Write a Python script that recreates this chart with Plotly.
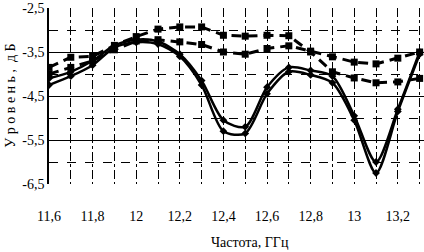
import plotly.graph_objects as go

freq = [11.6, 11.7, 11.8, 11.9, 12.0, 12.1, 12.2, 12.3, 12.4, 12.5, 12.6, 12.7, 12.8, 12.9, 13.0, 13.1, 13.2, 13.3]

dash_a = [-3.85, -3.62, -3.60, -3.35, -3.15, -2.98, -2.93, -2.93, -3.12, -3.14, -3.12, -3.13, -3.50, -3.95, -4.09, -4.20, -4.18, -4.10]
dash_b = [-4.00, -3.85, -3.70, -3.45, -3.25, -3.22, -3.27, -3.33, -3.50, -3.55, -3.42, -3.36, -3.48, -3.61, -3.73, -3.77, -3.64, -3.50]
solid_c = [-4.25, -4.05, -3.80, -3.40, -3.28, -3.32, -3.60, -4.25, -5.30, -5.35, -4.45, -3.95, -4.02, -4.20, -5.05, -6.25, -4.85, -3.55]
solid_d = [-4.10, -3.95, -3.70, -3.35, -3.22, -3.26, -3.55, -4.15, -5.05, -5.20, -4.30, -3.85, -3.92, -4.05, -4.95, -6.00, -4.80, -3.50]

x_ticks = [11.6, 11.8, 12.0, 12.2, 12.4, 12.6, 12.8, 13.0, 13.2]
x_tick_text = ["11,6", "11,8", "12", "12,2", "12,4", "12,6", "12,8", "13", "13,2"]
y_ticks = [-2.5, -3.5, -4.5, -5.5, -6.5]
y_tick_text = ["-2,5", "-3,5", "-4,5", "-5,5", "-6,5"]

fig = go.Figure()
for ys in (solid_c, solid_d):
    fig.add_trace(go.Scatter(x=freq, y=ys, mode="lines+markers",
                             line=dict(color="black", width=2.5, shape="spline", smoothing=0.8),
                             marker=dict(symbol="diamond", size=6, color="black"),
                             showlegend=False, hoverinfo="skip"))
for ys in (dash_a, dash_b):
    fig.add_trace(go.Scatter(x=freq, y=ys, mode="lines+markers",
                             line=dict(color="black", width=3, dash="10px,6px"),
                             marker=dict(symbol="square", size=7, color="black"),
                             showlegend=False, hoverinfo="skip"))

font_serif = "Liberation Serif, Times New Roman, serif"

fig.update_layout(
    width=424, height=252,
    margin=dict(l=49, r=0, t=8, b=68),
    paper_bgcolor="white", plot_bgcolor="white",
    font=dict(family=font_serif, size=14, color="black"),
    xaxis=dict(range=[11.6, 13.32], tickvals=x_ticks, ticktext=x_tick_text, automargin=False,
               showgrid=True, gridcolor="black", gridwidth=1, griddash="dashdot",
               minor=dict(dtick=0.1, tick0=11.6, showgrid=True, gridcolor="black", griddash="dashdot", gridwidth=1),
               zeroline=False, showline=False, ticks="", ticklabelstandoff=22,
               tickfont=dict(size=14)),
    yaxis=dict(range=[-6.5, -2.5], tickvals=y_ticks, ticktext=y_tick_text, automargin=False,
               showgrid=True, gridcolor="black", gridwidth=1.2,
               minor=dict(tick0=-6.5, dtick=0.5, showgrid=True, gridcolor="black", griddash="dash", gridwidth=1.2),
               zeroline=False, showline=True, linecolor="black", linewidth=1.5, ticks="",
               tickfont=dict(size=14)),
    annotations=[
        dict(text="Частота, ГГц", xref="paper", yref="paper", x=0.536, y=-0.335,
             showarrow=False, font=dict(size=14), xanchor="center", yanchor="middle"),
        dict(text="У р о в е н ь ,  д Б", xref="paper", yref="paper", x=-0.105, y=0.5,
             textangle=-90, showarrow=False, font=dict(size=14), xanchor="center", yanchor="middle"),
    ],
)

fig.write_html("out.html", config={"displayModeBar": False},
               post_script="document.body.style.margin='0';")
